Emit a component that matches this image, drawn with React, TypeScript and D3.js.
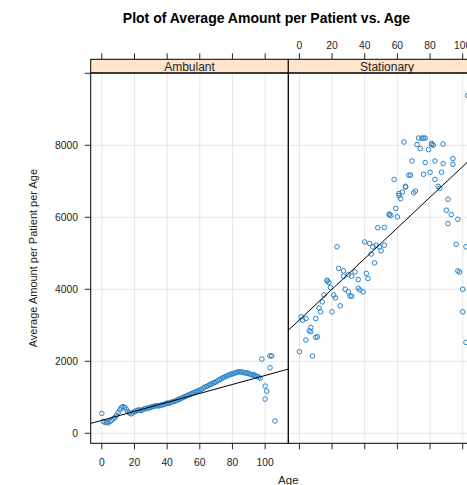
import React from 'react';
import * as d3 from 'd3';

// Ambulant panel: one value per age, plus a handful of very old patients
const ambulantAge = [
  0, 1, 2, 3, 4, 5, 6, 7, 8, 9, 10, 11, 12, 13, 14, 15, 16, 17, 18, 19,
  20, 21, 22, 23, 24, 25, 26, 27, 28, 29, 30, 31, 32, 33, 34, 35, 36, 37, 38, 39,
  40, 41, 42, 43, 44, 45, 46, 47, 48, 49, 50, 51, 52, 53, 54, 55, 56, 57, 58, 59,
  60, 61, 62, 63, 64, 65, 66, 67, 68, 69, 70, 71, 72, 73, 74, 75, 76, 77, 78, 79,
  80, 81, 82, 83, 84, 85, 86, 87, 88, 89, 90, 91, 92, 93, 94, 95, 96, 97,
  98, 103, 104, 103, 100, 101, 100, 106
];
const ambulantAmount = [
  550, 330, 300, 310, 290, 330, 360, 400, 440, 500, 580, 650, 710, 740, 720, 670, 600, 560, 540, 570,
  600, 620, 640, 650, 630, 650, 680, 690, 690, 710, 720, 740, 750, 760, 770, 760, 780, 790, 800, 820,
  840, 830, 850, 870, 880, 900, 920, 940, 960, 980, 1000, 1020, 1040, 1060, 1080, 1100, 1120, 1140, 1160, 1180,
  1200, 1220, 1250, 1280, 1300, 1320, 1350, 1370, 1390, 1410, 1430, 1460, 1490, 1510, 1540, 1560, 1580, 1600, 1620, 1640,
  1650, 1670, 1680, 1700, 1710, 1710, 1700, 1690, 1670, 1680, 1660, 1640, 1620, 1630, 1600, 1580, 1560, 1530,
  2060, 2150, 2150, 1820, 1310, 1170, 950, 340
];

// Stationary panel
const stationaryAge = [
  23, 40, 43, 45, 47, 49, 52, 50, 44, 46, 24, 27, 30, 34, 32, 27, 36, 41, 42, 17,
  17, 18, 19, 21, 22, 15, 14, 12, 13, 20, 25, 28, 30, 31, 32, 36, 37, 39, 1, 2,
  4, 10, 7, 6, 7, 10, 11, 4, 0, 8, 96, 102, 97, 98, 100, 100, 102, 48, 52, 59,
  60, 55, 56, 55, 61, 62, 61, 63, 65, 65, 58, 67, 68, 70, 71, 69, 64, 72, 74, 73,
  75, 76, 77, 79, 81, 82, 81, 77, 76, 80, 83, 88, 88, 87, 83, 85, 86, 94, 94, 91,
  90, 93, 97, 91, 103
];
const stationaryAmount = [
  5180, 5315, 5270, 5180, 5225, 5180, 5225, 5070, 4980, 4735, 4580, 4510, 4410, 4485, 4365, 4365, 4270, 4440, 4300, 4250,
  4230, 4190, 4050, 3840, 3760, 3840, 3650, 3480, 3375, 3375, 3540, 4000, 3930, 3810, 3810, 4030, 3980, 3930, 3235, 3145,
  3190, 3190, 2940, 2850, 2820, 2665, 2680, 2590, 2265, 2145, 5250, 5180, 4510, 4480, 4000, 3375, 2525, 5710, 5720, 6245,
  6010, 6090, 6050, 6070, 6660, 6520, 6600, 6700, 6860, 6840, 7050, 7170, 7170, 6680, 6730, 7565, 8090, 8020, 7910, 8200,
  8200, 8200, 8200, 7880, 8050, 8000, 8020, 7520, 7195, 7250, 7565, 8035, 7490, 7250, 7050, 6860, 6810, 7630, 7470, 6500,
  6195, 6075, 5945, 5825, 9380
];

// regression lines: [intercept, slope]
const ambulantFit = [360, 12.46];
const stationaryFit = [3150, 42.6];

const panelNames = ['Ambulant', 'Stationary'];
const xTicks = [0, 20, 40, 60, 80, 100];
const yTicks = [0, 2000, 4000, 6000, 8000, 10000];
const yLabels = ['0', '2000', '4000', '6000', '8000', ''];

const font = '"Liberation Sans", Arial, sans-serif';
const ink = '#222';
const pointColor = '#2a82c8';

function App() {
  const W = 467, H = 485;
  const left = 90.7, panelW = 197.6;
  const stripTop = 59.3, top = 73, bottom = 443.3;

  const x = d3.scaleLinear().domain([-6.8, 114.2]).range([0, panelW]);
  const y = d3.scaleLinear().domain([-278, 10008]).range([bottom, top]);

  const panels = [
    { name: panelNames[0], ages: ambulantAge, amounts: ambulantAmount, fit: ambulantFit },
    { name: panelNames[1], ages: stationaryAge, amounts: stationaryAmount, fit: stationaryFit },
  ];

  const line = d3.line<number>().x(d => x(d)).y(d => 0);

  return (
    <svg width={W} height={H} style={{ position: 'absolute', left: 0, top: 0, background: '#fff' }}>
      <defs>
        {panels.map((p, i) => (
          <clipPath id={`clip${i}`} key={i}>
            <rect x={left + i * panelW} y={top} width={panelW} height={bottom - top} />
          </clipPath>
        ))}
      </defs>

      <text x={266.5} y={22.5} textAnchor="middle" fontFamily={font} fontWeight="bold" fontSize={14} fill="#000">
        Plot of Average Amount per Patient vs. Age
      </text>

      {panels.map((p, i) => {
        const x0 = left + i * panelW;
        const [a, b] = p.fit;
        const fitLine = d3.line<number>().x(d => x(d)).y(d => y(a + b * d));
        return (
          <g key={p.name}>
            {/* grid */}
            <g transform={`translate(${x0},0)`} stroke="#e6e6e6" strokeWidth={1}>
              {xTicks.map(t => (
                <line key={'gx' + t} x1={x(t)} x2={x(t)} y1={top} y2={bottom} />
              ))}
              {yTicks.map(t => (
                <line key={'gy' + t} x1={0} x2={panelW} y1={y(t)} y2={y(t)} />
              ))}
            </g>

            <g clipPath={`url(#clip${i})`}>
              <g transform={`translate(${x0},0)`}>
                {p.ages.map((age, k) => (
                  <circle key={k} cx={x(age)} cy={y(p.amounts[k])} r={2.3}
                    fill="none" stroke={pointColor} strokeWidth={1} />
                ))}
                <path d={fitLine(x.domain()) || ''} stroke="#000" strokeWidth={1} fill="none" />
              </g>
            </g>

            {/* strip */}
            <rect x={x0} y={stripTop} width={panelW} height={top - stripTop} fill="#ffe5cc" stroke="#000" strokeWidth={1} />
            <text x={x0 + panelW / 2} y={top - 2.3} textAnchor="middle" fontFamily={font} fontSize={12} fill={ink}>
              {p.name}
            </text>

            {/* panel border */}
            <rect x={x0} y={top} width={panelW} height={bottom - top} fill="none" stroke="#000" strokeWidth={1} />

            {/* top and bottom ticks */}
            <g transform={`translate(${x0},0)`} stroke={ink} strokeWidth={1}>
              {xTicks.map(t => (
                <g key={'t' + t}>
                  <line x1={x(t)} x2={x(t)} y1={stripTop} y2={stripTop - 6} />
                  <line x1={x(t)} x2={x(t)} y1={bottom} y2={bottom + 6} />
                </g>
              ))}
            </g>
            <g transform={`translate(${x0},0)`} fontFamily={font} fontSize={10.3} fill={ink} textAnchor="middle">
              {xTicks.map(t => (
                i === 0
                  ? <text key={'bl' + t} x={x(t)} y={465.5}>{t}</text>
                  : <text key={'tl' + t} x={x(t)} y={48.5}>{t}</text>
              ))}
            </g>
          </g>
        );
      })}

      {/* left axis */}
      <g stroke={ink} strokeWidth={1}>
        {yTicks.map(t => (
          <line key={t} x1={left} x2={left - 6} y1={y(t)} y2={y(t)} />
        ))}
      </g>
      <g fontFamily={font} fontSize={10.3} fill={ink} textAnchor="end">
        {yTicks.map((t, k) => (
          <text key={t} x={78} y={y(t) + 3.6}>{yLabels[k]}</text>
        ))}
      </g>

      <text transform={`translate(37,${(top + bottom) / 2}) rotate(-90)`} textAnchor="middle"
        fontFamily={font} fontSize={11} fill={ink}>
        Average Amount per Patient per Age
      </text>
      <text x={288.3} y={484} textAnchor="middle" fontFamily={font} fontSize={11.5} fill={ink}>
        Age
      </text>
    </svg>
  );
}

export default App;
